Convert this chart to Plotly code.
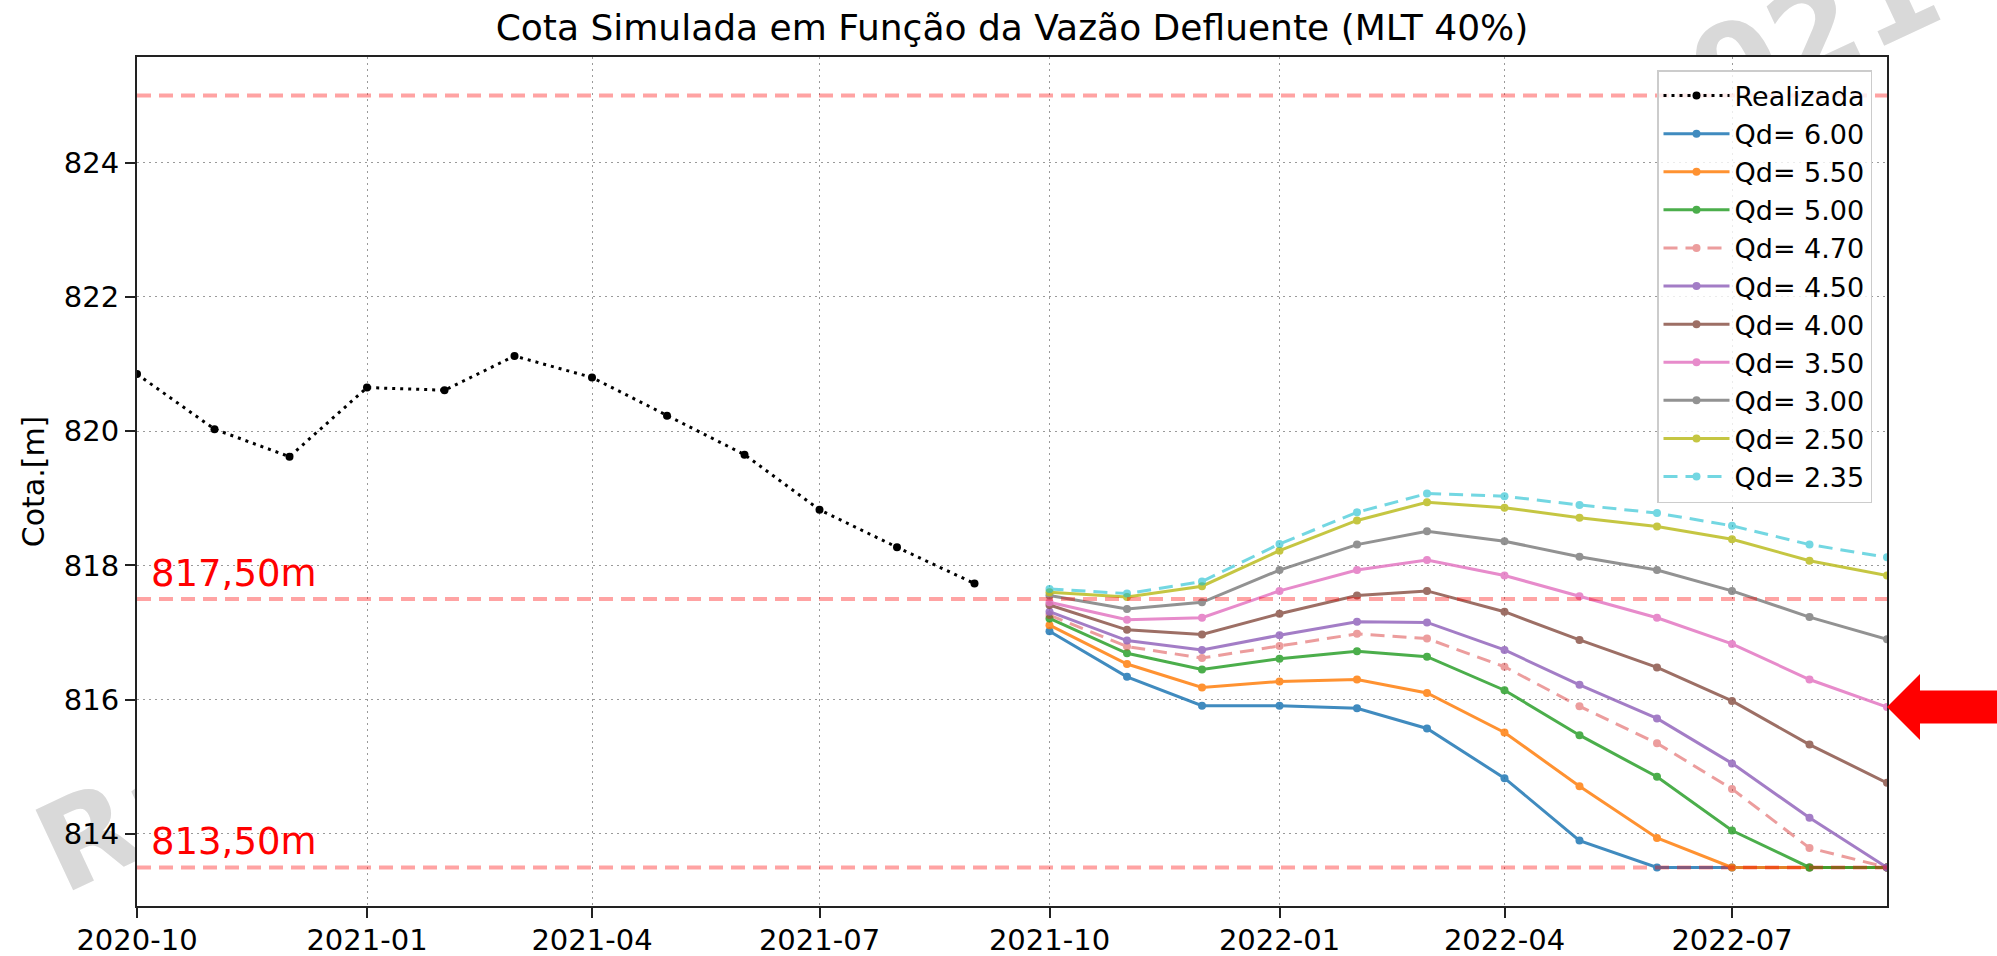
import base64
import plotly.graph_objects as go

# ---------------- data ----------------
title_text = "Cota Simulada em Função da Vazão Defluente (MLT 40%)"
y_label = "Cota.[m]"

realizada_dates = ["2020-10-01", "2020-11-01", "2020-12-01", "2021-01-01", "2021-02-01", "2021-03-01",
                   "2021-04-01", "2021-05-01", "2021-06-01", "2021-07-01", "2021-08-01", "2021-09-01"]
realizada_cota = [820.85, 820.03, 819.62, 820.65, 820.61, 821.12,
                  820.80, 820.23, 819.65, 818.83, 818.27, 817.73]

sim_dates = ["2021-10-01", "2021-11-01", "2021-12-01", "2022-01-01", "2022-02-01", "2022-03-01",
             "2022-04-01", "2022-05-01", "2022-06-01", "2022-07-01", "2022-08-01", "2022-09-01"]

qd_values = [6.00, 5.50, 5.00, 4.70, 4.50, 4.00, 3.50, 3.00, 2.50, 2.35]
qd_6_00 = [817.02, 816.34, 815.91, 815.91, 815.87, 815.57, 814.83, 813.90, 813.50, 813.50, 813.50, 813.50]
qd_5_50 = [817.11, 816.53, 816.18, 816.27, 816.30, 816.10, 815.51, 814.71, 813.94, 813.50, 813.50, 813.50]
qd_5_00 = [817.21, 816.69, 816.45, 816.61, 816.72, 816.64, 816.14, 815.47, 814.85, 814.05, 813.50, 813.50]
qd_4_70 = [817.26, 816.79, 816.62, 816.80, 816.98, 816.91, 816.49, 815.90, 815.35, 814.67, 813.79, 813.50]
qd_4_50 = [817.31, 816.88, 816.74, 816.96, 817.16, 817.15, 816.74, 816.22, 815.72, 815.05, 814.24, 813.50]
qd_4_00 = [817.41, 817.04, 816.97, 817.28, 817.55, 817.62, 817.31, 816.89, 816.48, 815.98, 815.33, 814.76]
qd_3_50 = [817.45, 817.19, 817.22, 817.62, 817.93, 818.08, 817.85, 817.54, 817.22, 816.83, 816.30, 815.89]
qd_3_00 = [817.55, 817.35, 817.45, 817.93, 818.31, 818.51, 818.36, 818.13, 817.93, 817.62, 817.23, 816.90]
qd_2_50 = [817.60, 817.53, 817.69, 818.22, 818.67, 818.94, 818.86, 818.71, 818.58, 818.39, 818.07, 817.85]
qd_2_35 = [817.65, 817.58, 817.76, 818.32, 818.79, 819.07, 819.03, 818.90, 818.78, 818.59, 818.31, 818.12]
qd_series = [qd_6_00, qd_5_50, qd_5_00, qd_4_70, qd_4_50, qd_4_00, qd_3_50, qd_3_00, qd_2_50, qd_2_35]

ref_levels = [825.0, 817.5, 813.5]
level_labels = {817.5: "817,50m", 813.5: "813,50m"}

x_tick_vals = ["2020-10-01", "2021-01-01", "2021-04-01", "2021-07-01",
               "2021-10-01", "2022-01-01", "2022-04-01", "2022-07-01"]
x_tick_text = ["2020-10", "2021-01", "2021-04", "2021-07",
               "2021-10", "2022-01", "2022-04", "2022-07"]
y_tick_vals = [814, 816, 818, 820, 822, 824]

watermark_text = "Rascunho - Setembro de 2021"

# ---------------- styles ----------------
FONT = "DejaVu Sans"
colors = ["#1f77b4", "#ff7f0e", "#2ca02c", "#d62728", "#9467bd",
          "#8c564b", "#e377c2", "#7f7f7f", "#bcbd22", "#17becf"]
dashes = ["solid", "solid", "solid", "14px,8px", "solid",
          "solid", "solid", "solid", "solid", "14px,8px"]
opacities = [0.85, 0.85, 0.85, 0.45, 0.85, 0.85, 0.85, 0.85, 0.85, 0.6]

fig = go.Figure()

fig.add_trace(go.Scatter(
    x=realizada_dates, y=realizada_cota, mode="lines+markers", name="Realizada",
    line=dict(color="black", width=3, dash="3px,5px"),
    marker=dict(color="black", size=8),
))

for q, ys, c, d, op in zip(qd_values, qd_series, colors, dashes, opacities):
    fig.add_trace(go.Scatter(
        x=sim_dates, y=ys, mode="lines+markers", name=f"Qd= {q:.2f}",
        line=dict(color=c, width=3, dash=d),
        marker=dict(color=c, size=8),
        opacity=op,
    ))

# y range as matplotlib autoscale (5% margins) over levels
ymin_d, ymax_d = min(ref_levels), max(ref_levels)
pad = 0.05 * (ymax_d - ymin_d)
y_range = [ymin_d - pad, ymax_d + pad]

shapes = []
# white cover over plot area (hides watermark inside the axes)
shapes.append(dict(type="rect", xref="paper", yref="paper", x0=0, x1=1, y0=0, y1=1,
                   fillcolor="white", line=dict(width=0), layer="below"))
for lv in ref_levels:
    shapes.append(dict(type="line", xref="paper", yref="y", x0=0, x1=1, y0=lv, y1=lv,
                       line=dict(color="rgba(255,0,0,0.36)", width=4, dash="14px,8px"),
                       layer="above"))

# red arrow pointing at the end of the Qd=3.50 curve
shapes.append(dict(type="path", xref="paper", yref="y",
                   xsizemode="pixel", ysizemode="pixel",
                   xanchor=1.0, yanchor=qd_3_50[-1],
                   path="M 0,0 L 33,33 L 33,16.5 L 112,16.5 L 112,-16.5 L 33,-16.5 L 33,-33 Z",
                   fillcolor="#ff0000", line=dict(width=0), layer="above"))

annotations = []
for lv, txt in level_labels.items():
    annotations.append(dict(text=txt, xref="paper", yref="y", x=0.0069, y=lv,
                            xanchor="left", yanchor="bottom", yshift=2, showarrow=False,
                            font=dict(family=FONT, size=37, color="red")))

# watermark (drawn below plot area)
svg = (
    '<svg xmlns="http://www.w3.org/2000/svg" width="1997" height="956" viewBox="0 0 1997 956">'
    '<text x="63" y="895" transform="rotate(-25 63 895)" font-family="DejaVu Sans" '
    'font-weight="bold" font-size="122" fill="#d9d9d9" textLength="2080" lengthAdjust="spacing">'
    + watermark_text + '</text></svg>'
)
svg_uri = "data:image/svg+xml;base64," + base64.b64encode(svg.encode("utf-8")).decode("ascii")

W, H = 1997, 956
L, R, T, B = 137, 110, 57, 50
pw, ph = W - L - R, H - T - B

fig.update_layout(
    width=W, height=H,
    margin=dict(l=L, r=R, t=T, b=B, pad=0),
    paper_bgcolor="white", plot_bgcolor="white",
    font=dict(family=FONT, size=29, color="black"),
    title=dict(text=title_text, x=0.5, xref="paper", y=1 - 27 / H, yref="container",
               xanchor="center", yanchor="middle",
               font=dict(family=FONT, size=36, color="black")),
    showlegend=True,
    legend=dict(x=(1872 - L) / pw, y=(906 - 70) / ph, xanchor="right", yanchor="top",
                bgcolor="rgba(255,255,255,0.8)", bordercolor="#cccccc", borderwidth=1.5,
                font=dict(family=FONT, size=27, color="black"), itemwidth=66,
                tracegroupgap=0),
    shapes=shapes,
    annotations=annotations,
    images=[dict(source=svg_uri, xref="paper", yref="paper",
                 x=-L / pw, y=1 + T / ph, sizex=W / pw, sizey=H / ph,
                 xanchor="left", yanchor="top", sizing="stretch", layer="below")],
)

fig.update_xaxes(
    type="date", range=[realizada_dates[0], sim_dates[-1]],
    tickvals=x_tick_vals, ticktext=x_tick_text,
    showgrid=True, gridcolor="#9a9a9a", gridwidth=1.3, griddash="2px,4px",
    showline=True, linecolor="#222222", linewidth=2, mirror=True,
    ticks="outside", ticklen=10, tickwidth=1.5, tickcolor="#222222",
    tickfont=dict(family=FONT, size=29, color="black"), ticklabelstandoff=-3,
    zeroline=False, automargin=False,
)
fig.update_yaxes(
    range=y_range, tickvals=y_tick_vals,
    showgrid=True, gridcolor="#9a9a9a", gridwidth=1.3, griddash="2px,4px",
    showline=True, linecolor="#222222", linewidth=2, mirror=True,
    ticks="outside", ticklen=10, tickwidth=1.5, tickcolor="#222222",
    tickfont=dict(family=FONT, size=29, color="black"),
    title=dict(text=y_label, font=dict(family=FONT, size=30, color="black"), standoff=10),
    zeroline=False, automargin=False,
)

fig.write_html(
    "out.html",
    config={"displayModeBar": False},
    post_script="document.body.style.margin='0';document.body.style.padding='0';"
                "document.documentElement.style.overflow='hidden';",
)
